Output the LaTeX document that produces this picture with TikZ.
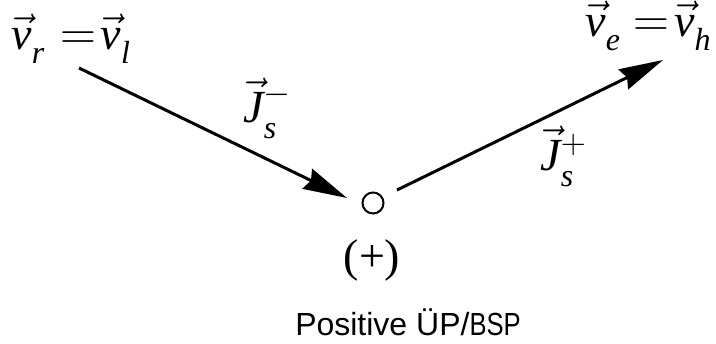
\documentclass[tikz,border=0pt]{standalone}
\usepackage{amsmath}
\usepackage{fontspec}
\setmainfont{Liberation Serif}
\setsansfont{Liberation Sans}
\usetikzlibrary{arrows.meta,positioning}
% vector letter, lowered index, raised sign
\newcommand\vsym[1]{$\vec{\text{\itshape #1}}$}
\newcommand\dn[2]{\raisebox{-#1}{\fontsize{16}{16}\selectfont\itshape #2}}
\newcommand\up[2]{\raisebox{#1}{\fontsize{16}{16}\selectfont$#2$}}
\tikzset{
  vlbl/.style={inner sep=0pt, font=\fontsize{23}{27}\selectfont},
  flow/.style={-{Stealth[length=22pt,width=11pt,inset=2pt]}, line width=1.5pt},
  pole/.style={circle, draw, line width=1pt, minimum size=10.5pt, inner sep=0pt},
  capt/.style={inner sep=0pt, font=\sffamily\fontsize{16}{19}\selectfont},
}

\begin{document}
\begin{tikzpicture}[x=0.5pt,y=-0.5pt]
\useasboundingbox (0,0) rectangle (716,343);

% velocities at both ends
\node[vlbl, anchor=base west] (vrl) at (11,49)
  {\vsym{v}\dn{7pt}{r}\hspace{0.35em}$=$\hspace{0.1em}\vsym{v}\dn{7pt}{l}};
\node[vlbl, anchor=base west] (veh) at (585,36)
  {\vsym{v}\dn{7pt}{e}\hspace{0.3em}$=$\hspace{0.1em}\vsym{v}\dn{7pt}{h}};

% the point and its sign
\node[pole] (pt) at (373,203) {};
\node[vlbl] (sign) at (372,260) {(+)};

% arrow ends
\coordinate (inS) at (79,68);
\coordinate (inT) at (347,198);
\coordinate (outS) at (397,190);
\coordinate (outT) at (663,60);

\draw[flow] (inS) -- (inT);
\draw[flow] (outS) -- (outT);

% currents
\node[vlbl, anchor=base west] (jm) at (243,122)
  {\vsym{J}\rlap{\up{9.5pt}{-}}\dn{8pt}{s}};
\node[vlbl, anchor=base west] (jp) at (540,170)
  {\vsym{J}\rlap{\up{8.5pt}{+}}\dn{8pt}{s}};

% caption
\node[capt, anchor=base] (cap) at (408,335) {Positive ÜP/\scalebox{0.8}[1]{BSP}};

\end{tikzpicture}
\end{document}
